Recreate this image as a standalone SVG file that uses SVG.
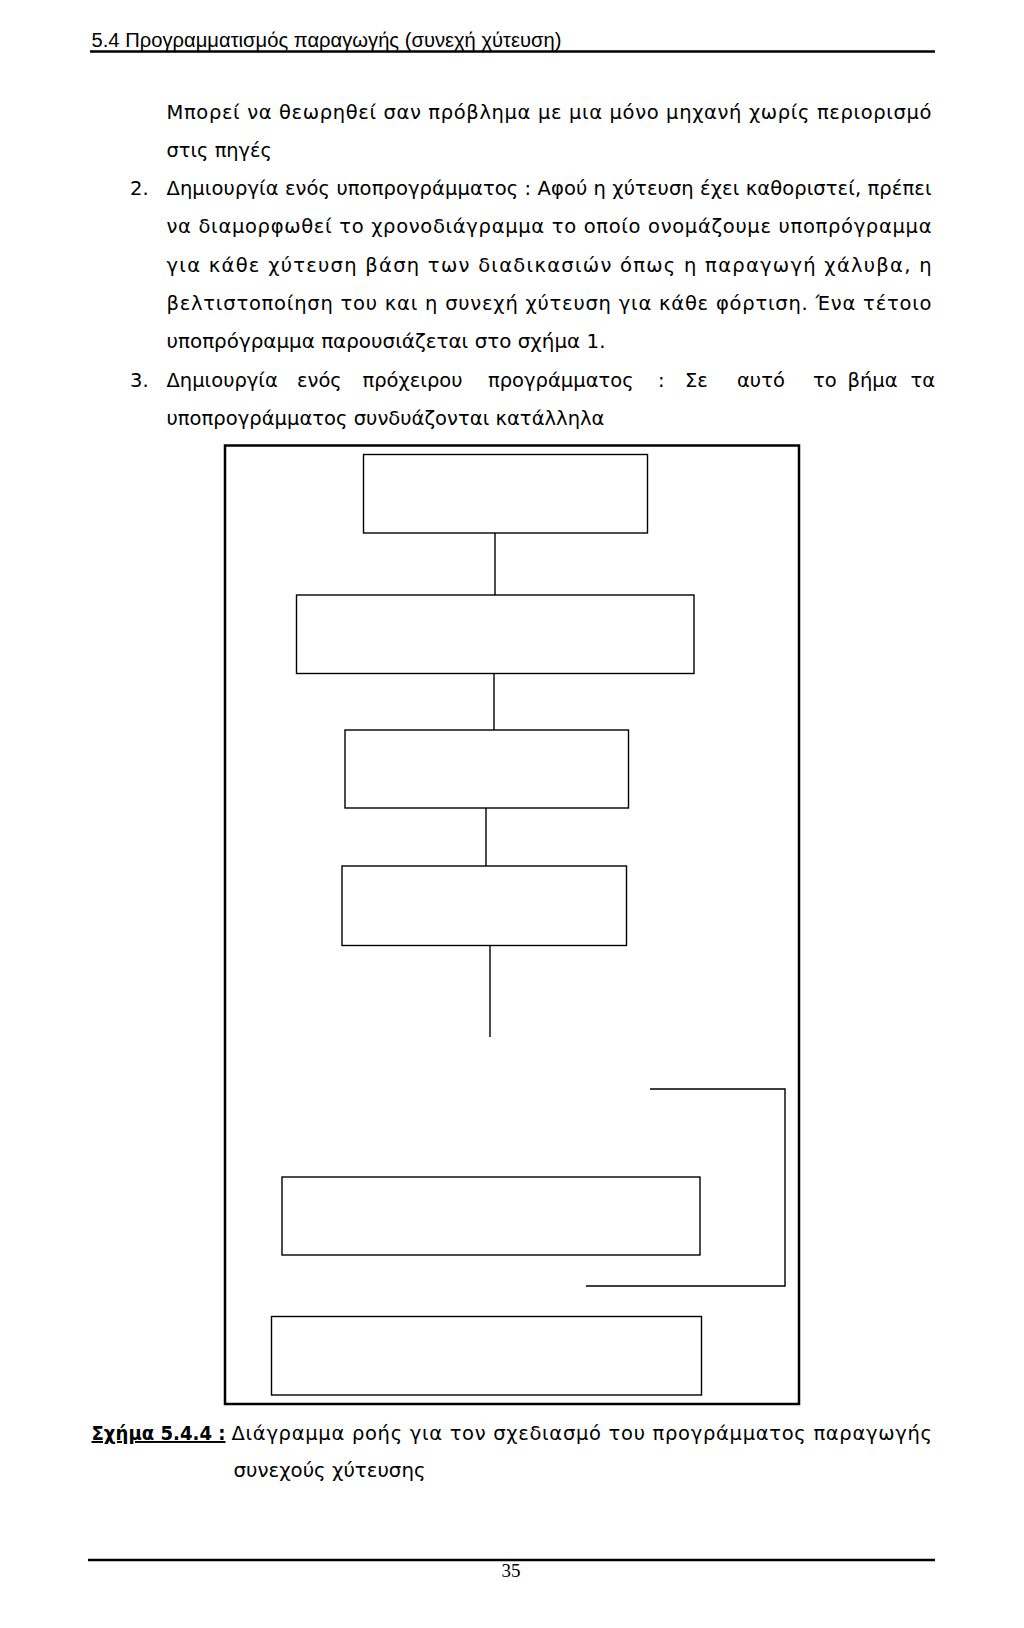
<svg xmlns="http://www.w3.org/2000/svg" width="1024" height="1628" viewBox="0 0 1024 1628">
<style>
.t{font-family:"DejaVu Sans","Liberation Sans",Arial,sans-serif;font-size:19.5px;fill:#000}
.h{font-family:"Liberation Sans",Arial,sans-serif;font-size:20px;fill:#000}
.b{fill:none;stroke:#000;stroke-width:1.4}
.c{fill:none;stroke:#000;stroke-width:1.4}
.rule{stroke:#000;stroke-width:2.5}
</style>
<rect width="1024" height="1628" fill="#fff"/>
<g id="header">
<text class="h" x="91.5" y="46.5" textLength="470" lengthAdjust="spacingAndGlyphs">5.4 Προγραμματισμός παραγωγής (συνεχή χύτευση)</text>
<line class="rule" x1="90" y1="51.5" x2="935" y2="51.5"/>
</g>
<g id="body">
<text class="t" x="166.5" y="118.5" textLength="765" lengthAdjust="spacing">Μπορεί να θεωρηθεί σαν πρόβλημα με μια μόνο μηχανή χωρίς περιορισμό</text>
<text class="t" x="166.5" y="156.6" textLength="105.5" lengthAdjust="spacingAndGlyphs">στις πηγές</text>
<text class="t" x="130" y="194.8">2.</text>
<text class="t" x="166.5" y="194.8" textLength="765" lengthAdjust="spacing">Δημιουργία ενός υποπρογράμματος : Αφού η χύτευση έχει καθοριστεί, πρέπει</text>
<text class="t" x="166.5" y="233.2" textLength="765" lengthAdjust="spacing">να διαμορφωθεί το χρονοδιάγραμμα το οποίο ονομάζουμε υποπρόγραμμα</text>
<text class="t" x="166.5" y="271.6" textLength="765" lengthAdjust="spacing">για κάθε χύτευση βάση των διαδικασιών όπως η παραγωγή χάλυβα, η</text>
<text class="t" x="166.5" y="310" textLength="765" lengthAdjust="spacing">βελτιστοποίηση του και η συνεχή χύτευση για κάθε φόρτιση. Ένα τέτοιο</text>
<text class="t" x="166.5" y="348.4" textLength="439" lengthAdjust="spacingAndGlyphs">υποπρόγραμμα παρουσιάζεται στο σχήμα 1.</text>
<text class="t" y="386.8"><tspan x="130">3.</tspan><tspan x="166.5">Δημιουργία</tspan><tspan x="297">ενός</tspan><tspan x="362.5">πρόχειρου</tspan><tspan x="488">προγράμματος</tspan><tspan x="658">:</tspan><tspan x="685">Σε</tspan><tspan x="737">αυτό</tspan><tspan x="813">το</tspan><tspan x="847.5">βήμα</tspan><tspan x="910.5">τα</tspan></text>
<text class="t" x="166.5" y="425.2" textLength="438" lengthAdjust="spacingAndGlyphs">υποπρογράμματος συνδυάζονται κατάλληλα</text>
</g>
<g id="frame">
<rect x="225" y="445.5" width="574" height="958.5" fill="none" stroke="#000" stroke-width="2.5"/>
</g>
<g id="node1"><rect class="b" x="363.5" y="454.5" width="284" height="78.5"/></g>
<g id="node2"><rect class="b" x="296.5" y="595" width="397.5" height="78.5"/></g>
<g id="node3"><rect class="b" x="345" y="730" width="283.5" height="78"/></g>
<g id="node4"><rect class="b" x="342" y="866" width="284.5" height="79.5"/></g>
<g id="node5"><rect class="b" x="282" y="1177" width="418" height="78"/></g>
<g id="node6"><rect class="b" x="271.5" y="1316.5" width="430" height="78.5"/></g>
<g id="connectors">
<line class="c" x1="495" y1="533" x2="495" y2="595"/>
<line class="c" x1="494" y1="673.5" x2="494" y2="730"/>
<line class="c" x1="486" y1="808" x2="486" y2="866"/>
<line class="c" x1="490" y1="945.5" x2="490" y2="1037"/>
<polyline class="c" points="650,1089 785,1089 785,1286 586,1286"/>
</g>
<g id="caption">
<text class="t" x="91.5" y="1440" textLength="134" lengthAdjust="spacingAndGlyphs"><tspan font-weight="bold" text-decoration="underline">Σχήμα 5.4.4 :</tspan></text>
<text class="t" x="231.5" y="1440" textLength="700.5" lengthAdjust="spacing">Διάγραμμα ροής για τον σχεδιασμό του προγράμματος παραγωγής</text>
<text class="t" x="233.5" y="1477" textLength="192" lengthAdjust="spacingAndGlyphs">συνεχούς χύτευσης</text>
</g>
<g id="footer">
<line class="rule" x1="88" y1="1560" x2="935" y2="1560"/>
<text x="511" y="1577" text-anchor="middle" font-family="'Liberation Serif','Times New Roman',serif" font-size="19">35</text>
</g>
</svg>
